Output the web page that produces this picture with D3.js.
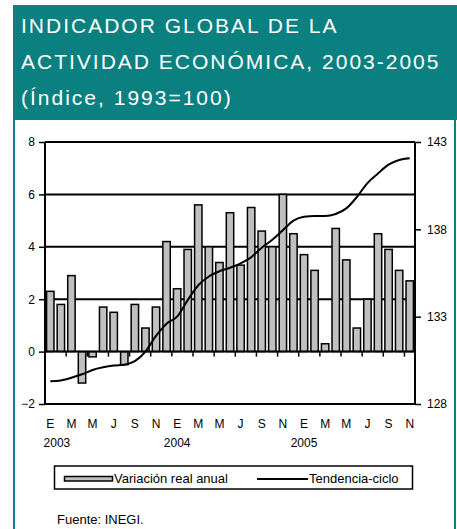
<!DOCTYPE html>
<html>
<head>
<meta charset="utf-8">
<script src="https://cdn.jsdelivr.net/npm/d3@7"></script>
<style>
  body { margin: 0; background: #fff; }
  svg text { font-family: "Liberation Sans", Arial, sans-serif; }
</style>
</head>
<body>
<svg id="chart"></svg>
<script>
// Variación real anual (%), ene 2003 - nov 2005
const variacion = [
  2.3, 1.8, 2.9, -1.2, -0.2, 1.7, 1.5, -0.5, 1.8, 0.9, 1.7, 4.2,
  2.4, 3.9, 5.6, 4.0, 3.4, 5.3, 3.3, 5.5, 4.6, 4.0, 6.0, 4.5,
  3.7, 3.1, 0.3, 4.7, 3.5, 0.9, 2.0, 4.5, 3.9, 3.1, 2.7
];

// Tendencia-ciclo (índice 1993=100)
const tendencia = [
  129.3, 129.35, 129.5, 129.7, 129.95, 130.1, 130.2, 130.25, 130.45, 131.0, 131.9, 132.6,
  133.0, 133.95, 134.8, 135.3, 135.6, 135.8, 136.05, 136.4, 136.95, 137.4, 137.95, 138.5,
  138.72, 138.76, 138.76, 138.88, 139.2, 139.85, 140.65, 141.2, 141.7, 141.97, 142.07
];

const meses = ["E", "F", "M", "A", "M", "J", "J", "A", "S", "O", "N", "D"];
const anios = ["2003", "2004", "2005"];
const leftTicks = [-2, 0, 2, 4, 6, 8];
const rightTicks = [128, 133, 138, 143];

const width = 457;
const height = 529;
const teal = "#0a8080";

const svg = d3.select("#chart")
  .attr("width", width)
  .attr("height", height);

// Frame: title box and white panel
svg.append("rect")
  .attr("x", 13).attr("y", 5)
  .attr("width", 444).attr("height", 115)
  .attr("fill", teal);

svg.append("rect")
  .attr("x", 14).attr("y", 119)
  .attr("width", 441).attr("height", 420)
  .attr("fill", "#fff")
  .attr("stroke", teal)
  .attr("stroke-width", 2);

const titleLines = [
  "INDICADOR GLOBAL DE LA",
  "ACTIVIDAD ECONÓMICA, 2003-2005",
  "(Índice, 1993=100)"
];

svg.append("g")
  .selectAll("text")
  .data(titleLines)
  .join("text")
  .attr("x", 21)
  .attr("y", (d, i) => 33 + i * 36)
  .attr("fill", "#fff")
  .attr("font-size", 21)
  .attr("letter-spacing", 2)
  .text(d => d);

// Scales
const idx = d3.range(variacion.length);

const x = d3.scaleBand()
  .domain(idx)
  .range([45, 415])
  .paddingInner(0.3)
  .paddingOuter(0.15);

const yL = d3.scaleLinear().domain([-2, 8]).range([404, 142]);
const yR = d3.scaleLinear().domain([128, 143]).range([404, 142]);

const step = x.step();

// Gridlines
svg.append("g")
  .selectAll("line")
  .data(leftTicks.filter(d => d !== 0))
  .join("line")
  .attr("x1", 45).attr("x2", 415)
  .attr("y1", d => yL(d)).attr("y2", d => yL(d))
  .attr("stroke", "#000")
  .attr("stroke-width", 2);

// Bars
svg.append("g")
  .selectAll("rect")
  .data(variacion)
  .join("rect")
  .attr("x", (d, i) => x(i))
  .attr("width", x.bandwidth())
  .attr("y", d => yL(Math.max(0, d)))
  .attr("height", d => Math.abs(yL(d) - yL(0)))
  .attr("fill", "#c0c0c0")
  .attr("stroke", "#000")
  .attr("stroke-width", 1.5);

// Category axis at zero
const zeroY = yL(0);
svg.append("line")
  .attr("x1", 45).attr("x2", 415)
  .attr("y1", zeroY).attr("y2", zeroY)
  .attr("stroke", "#000")
  .attr("stroke-width", 2);

svg.append("g")
  .selectAll("line")
  .data(idx.filter(i => i > 0 && i % 2 === 0))
  .join("line")
  .attr("x1", i => x(i) - step * 0.15)
  .attr("x2", i => x(i) - step * 0.15)
  .attr("y1", zeroY).attr("y2", zeroY + 5)
  .attr("stroke", "#000")
  .attr("stroke-width", 1.5);

// Trend line
const line = d3.line()
  .x((d, i) => x(i) + x.bandwidth() / 2)
  .y(d => yR(d))
  .curve(d3.curveMonotoneX);

svg.append("path")
  .datum(tendencia)
  .attr("d", line)
  .attr("fill", "none")
  .attr("stroke", "#000")
  .attr("stroke-width", 2);

// Left axis
const leftAxis = svg.append("g")
  .attr("transform", "translate(45,0)")
  .call(d3.axisLeft(yL).tickValues(leftTicks).tickSize(6).tickPadding(4).tickFormat(d3.format("d")));

// Right axis
const rightAxis = svg.append("g")
  .attr("transform", "translate(415,0)")
  .call(d3.axisRight(yR).tickValues(rightTicks).tickSize(6).tickPadding(6));

[leftAxis, rightAxis].forEach(a => {
  a.select(".domain").attr("stroke-width", 2).attr("d", null);
  a.selectAll(".tick line").attr("stroke-width", 1.5);
  a.selectAll("text")
    .attr("font-size", 12)
    .attr("font-family", "Liberation Sans, Arial, sans-serif")
    .attr("fill", "#000");
});
leftAxis.append("line")
  .attr("y1", 142).attr("y2", 404)
  .attr("stroke", "#000").attr("stroke-width", 2);
rightAxis.append("line")
  .attr("y1", 142).attr("y2", 404)
  .attr("stroke", "#000").attr("stroke-width", 2);

// Month labels
svg.append("g")
  .selectAll("text")
  .data(idx.filter(i => i % 2 === 0))
  .join("text")
  .attr("x", i => x(i) + x.bandwidth() / 2)
  .attr("y", 428)
  .attr("text-anchor", "middle")
  .attr("font-size", 12)
  .text(i => meses[i % 12]);

// Year labels
svg.append("g")
  .selectAll("text")
  .data(anios)
  .join("text")
  .attr("x", (d, k) => k === 0 ? x(0) - 3 : x(k * 12) + x.bandwidth() / 2)
  .attr("y", 447)
  .attr("text-anchor", (d, k) => k === 0 ? "start" : "middle")
  .attr("font-size", 12)
  .text(d => d);

// Legend
const legend = svg.append("g");
legend.append("rect")
  .attr("x", 54.5).attr("y", 466)
  .attr("width", 358).attr("height", 23)
  .attr("fill", "#fff")
  .attr("stroke", "#000")
  .attr("stroke-width", 1.5);
legend.append("rect")
  .attr("x", 64.5).attr("y", 476.5)
  .attr("width", 48).attr("height", 4.5)
  .attr("fill", "#c0c0c0")
  .attr("stroke", "#000")
  .attr("stroke-width", 1.5);
legend.append("text")
  .attr("x", 114).attr("y", 483)
  .attr("font-size", 13)
  .text("Variación real anual");
legend.append("line")
  .attr("x1", 257).attr("x2", 308)
  .attr("y1", 479).attr("y2", 479)
  .attr("stroke", "#000")
  .attr("stroke-width", 2);
legend.append("text")
  .attr("x", 309).attr("y", 483)
  .attr("font-size", 13)
  .text("Tendencia-ciclo");

svg.append("text")
  .attr("x", 57).attr("y", 524)
  .attr("font-size", 13)
  .text("Fuente: INEGI.");
</script>
</body>
</html>
